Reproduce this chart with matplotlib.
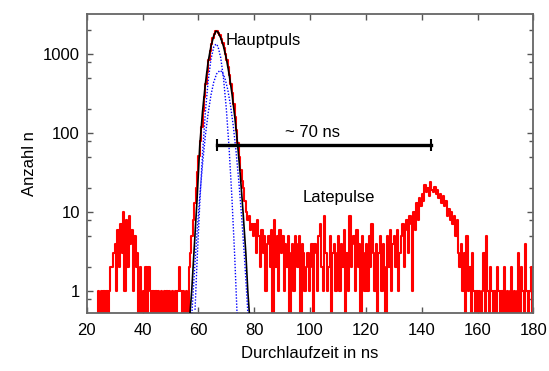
import numpy as np
import matplotlib
matplotlib.use("Agg")
import matplotlib.pyplot as plt
from matplotlib.ticker import FixedLocator, NullFormatter

plt.rcParams['font.family'] = ['Liberation Sans', 'DejaVu Sans']

# histogram: counts per 0.5 ns bin, starting at 20 ns
t_start = 20.0
bin_w = 0.5
counts = (
    [0, 0, 0, 0, 0, 0, 0, 0, 1, 0, 1, 0, 1, 0, 1, 0, 1, 2, 2, 3]                # 20-30
    + [4, 1, 6, 2, 7, 3, 10, 1, 8, 2, 9, 4, 6, 1, 5, 2, 3, 0, 2, 0]             # 30-40
    + [1, 0, 2, 0, 2, 1, 0, 1, 0, 1, 0, 1, 0, 1, 0, 1, 0, 1, 0, 1]              # 40-50
    + [0, 1, 0, 1, 0, 1, 2, 1, 0, 1, 0, 1, 0, 2, 3, 5, 8, 13, 20, 32]           # 50-60
    + [52, 80, 120, 190, 290, 420, 600, 850, 1100, 1350,
       1600, 1800, 1930, 1950, 1860, 1720, 1560, 1380, 1200, 1000]              # 60-70
    + [850, 690, 540, 420, 320, 230, 160, 110, 75, 50,
       34, 25, 20, 14, 10, 8, 9, 6, 7, 5]                                       # 70-80
    + [7, 3, 8, 5, 2, 6, 3, 5, 1, 4, 5, 2, 6, 0, 8, 2, 5, 1, 6, 3]              # 80-90
    + [5, 1, 4, 2, 5, 0, 3, 4, 1, 5, 4, 2, 5, 0, 4, 3, 1, 2, 3, 1]              # 90-100
    + [2, 4, 0, 4, 3, 1, 5, 7, 2, 1, 9, 3, 1, 2, 5, 0, 3, 4, 1, 3]              # 100-110
    + [5, 1, 4, 2, 6, 0, 3, 1, 9, 2, 4, 5, 1, 6, 2, 4, 0, 5, 3, 1]              # 110-120
    + [4, 1, 5, 2, 7, 3, 1, 4, 0, 3, 5, 1, 4, 2, 0, 5, 2, 6, 1, 4]              # 120-130
    + [5, 2, 6, 1, 3, 5, 7, 2, 6, 8, 3, 9, 7, 1, 10, 6, 13, 8, 15, 12]          # 130-140
    + [17, 14, 22, 18, 20, 16, 24, 19, 18, 21, 17, 19, 15, 17, 13, 16, 12, 14, 9, 11]  # 140-150
    + [8, 10, 7, 9, 5, 8, 3, 2, 4, 1, 3, 0, 5, 1, 2, 0, 3, 1, 0, 1]             # 150-160
    + [0, 1, 0, 1, 3, 0, 5, 1, 0, 2, 1, 0, 1, 0, 2, 1, 0, 1, 0, 2]              # 160-170
    + [0, 1, 0, 1, 2, 0, 1, 0, 1, 3, 0, 2, 1, 0, 4, 1, 0, 1, 2, 0]              # 170-180
)

# fit curve (black)
fit_t = [57.0, 57.6, 58.5, 59.5, 60.5, 61.5, 62.5, 63.5, 64.5, 65.5, 66.3,
         67.0, 68.0, 69.0, 70.0, 71.0, 72.0, 73.0, 74.0, 75.0, 76.0, 77.0, 77.7, 78.3]
fit_n = [0.53, 1.0, 3.5, 14, 70, 190, 420, 800, 1250, 1700, 1950,
         1900, 1600, 1250, 880, 560, 320, 165, 75, 30, 10, 3, 1.0, 0.5]

# two components (blue dotted)
comp1_t = [58.8, 59.5, 60.5, 61.5, 62.5, 63.5, 64.5, 65.5, 66.3,
           67.0, 68.0, 69.0, 70.0, 71.0, 72.0, 73.0, 73.9]
comp1_n = [0.58, 2.3, 13, 56, 184, 456, 858, 1227, 1340,
           1253, 899, 492, 204, 64, 15.4, 2.8, 0.47]
comp2_t = [57.6, 58.5, 59.5, 60.5, 61.5, 62.5, 63.5, 64.5, 65.5, 66.5, 67.7,
           68.5, 69.5, 70.5, 71.5, 72.5, 73.5, 74.5, 75.5, 76.5, 77.5, 78.0]
comp2_n = [0.47, 1.6, 5.5, 16, 41, 93, 179, 302, 441, 560, 620,
           593, 494, 357, 224, 123, 58, 24, 8.6, 2.7, 0.72, 0.35]

# "~ 70 ns" marker
bar_start, bar_end, bar_level = 66.7, 143.4, 70

counts = np.array(counts, dtype=float)
edges = t_start + bin_w * np.arange(len(counts) + 1)
shown = np.where(counts > 0, counts, 0.1)

fig = plt.figure(figsize=(5.49, 3.71), dpi=100)
ax = fig.add_axes([0.158, 0.156, 0.8135, 0.806])

ax.step(edges, np.append(shown, shown[-1]), where='post', color='red', lw=1.5, zorder=2)
ax.plot(fit_t, fit_n, color='black', lw=1.2, zorder=3)
ax.plot(comp1_t, comp1_n, color='blue', lw=1.0, ls=(0, (1, 1.2)), zorder=4)
ax.plot(comp2_t, comp2_n, color='blue', lw=1.0, ls=(0, (1, 1.2)), zorder=4)

# scale bar
ax.plot([bar_start, bar_end], [bar_level, bar_level], color='black', lw=2.4, zorder=5)
ax.plot([bar_start, bar_end], [bar_level, bar_level], ls='none', marker='|',
        ms=9, mew=1.5, color='black', zorder=5)
ax.text(100.8, 103, '~ 70 ns', ha='center', va='center', fontsize=12)

ax.text(69.9, 1500, 'Hauptpuls', ha='left', va='center', fontsize=12)
ax.text(97.3, 15.5, 'Latepulse', ha='left', va='center', fontsize=12)

ax.set_yscale('log')
ax.set_xlim(20, 180)
ax.set_ylim(0.527, 3200)
ax.set_xticks(np.arange(20, 181, 20))
ax.set_yticks([1, 10, 100, 1000])
ax.set_yticklabels(['1', '10', '100', '1000'])
minor = [m * 10.0 ** k for k in range(-1, 4) for m in (0.8, 2, 5)]
ax.yaxis.set_minor_locator(FixedLocator(minor))
ax.yaxis.set_minor_formatter(NullFormatter())

ax.set_xlabel('Durchlaufzeit in ns', fontsize=12, labelpad=6)
ax.set_ylabel('Anzahl n', fontsize=12, labelpad=4)

for s in ax.spines.values():
    s.set_color('#666666')
    s.set_linewidth(1.3)
ax.tick_params(which='both', direction='in', top=True, right=True,
               color='#555555', labelsize=12)
ax.tick_params(axis='x', which='major', length=4, width=1, pad=7)
ax.tick_params(axis='y', which='major', length=4, width=1, pad=5)
ax.tick_params(which='minor', length=3, width=1)

fig.savefig('out.png', dpi=100)
